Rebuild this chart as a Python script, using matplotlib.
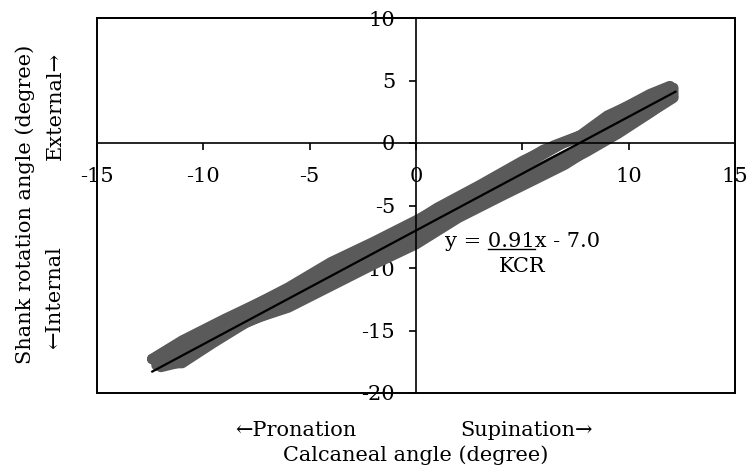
import matplotlib
matplotlib.use("Agg")
import matplotlib.pyplot as plt
from matplotlib.patches import Rectangle
from matplotlib.lines import Line2D
import numpy as np

plt.rcParams["font.family"] = ["DejaVu Serif"]
plt.rcParams["axes.unicode_minus"] = False

# Calcaneal angle (x) vs shank rotation angle (y), three gait trials (up then back)
trial1_x = [-12.3, -11.5, -10, -8, -6, -4, -2, 0, 2, 4, 6, 7.5, 9, 10.5, 11.7, 11.95,
            12.1, 11.5, 10, 8.5, 7, 5.5, 4, 2, 0, -2, -4, -6, -8, -10, -11, -12.0, -12.3]
trial1_y = [-17.19, -16.37, -15.1, -13.33, -11.56, -9.54, -7.92, -6.2, -4.48, -2.56, -0.54, 0.33,
            2.19, 3.36, 4.2, 4.55,
            3.61, 2.97, 1.4, -0.12, -1.73, -3.0, -4.26, -5.98, -8.1, -9.72, -11.44, -13.16,
            -14.28, -16.4, -17.51, -17.92, -17.29]

trial2_x = [-12.2, -11, -9, -7, -5, -3, -1, 1, 3, 5, 7, 9, 10.5, 11.6, 12.1,
            12.1, 11, 9.5, 8, 6, 4, 2, 0, -2, -4, -6, -8, -9.5, -11, -12.2]
trial2_y = [-17.8, -16.81, -14.79, -12.87, -11.15, -9.43, -7.41, -5.69, -4.07, -1.85, 0.07,
            1.49, 3.06, 4.06, 4.41,
            3.71, 2.41, 0.75, -0.72, -2.44, -4.06, -5.78, -7.9, -9.52, -11.24, -12.96,
            -14.38, -15.95, -17.61, -17.6]

trial3_x = [-12.4, -11, -9, -7, -5, -3, -1, 1, 3, 5, 6.5, 8, 9.5, 11, 11.9,
            11.9, 10.5, 9, 7.5, 6, 4.5, 3, 1, -1, -3, -5, -7, -9, -11, -12.4]
trial3_y = [-17.28, -15.81, -14.09, -12.47, -10.85, -8.93, -7.31, -5.19, -3.37, -1.45, -0.19,
            0.78, 2.55, 3.91, 4.53,
            3.63, 2.46, 0.99, -0.58, -1.84, -3.01, -4.57, -6.29, -8.21, -10.13, -12.05,
            -13.57, -15.19, -17.21, -17.28]

# Regression line: y = 0.91x - 7.0
slope = 0.91
intercept = -7.0
fit_x = [-12.4, 12.2]

x_ticks = [-15, -10, -5, 0, 5, 10, 15]
y_ticks = [-20, -15, -10, -5, 0, 5, 10]

fig = plt.figure(figsize=(7.47, 4.70), dpi=100)
ax = fig.add_axes([97 / 747, 77 / 470, 638 / 747, 375 / 470])

band_color = "#5a5a5a"
for tx, ty in [(trial1_x, trial1_y), (trial2_x, trial2_y), (trial3_x, trial3_y)]:
    ax.plot(tx, ty, color=band_color, lw=7.5, solid_capstyle="round",
            solid_joinstyle="round", zorder=2)

fx = np.array(fit_x)
ax.plot(fx, slope * fx + intercept, color="black", lw=1.6, zorder=3)

ax.set_xlim(-15, 15)
ax.set_ylim(-20, 10)
ax.set_xticks(x_ticks)
ax.set_yticks(y_ticks)
ax.set_xticklabels([str(v) for v in x_ticks])
ax.set_yticklabels([str(v) for v in y_ticks])

# axes cross at the origin, plus a full outer frame
ax.spines["left"].set_position(("data", 0))
ax.spines["bottom"].set_position(("data", 0))
for s in ax.spines.values():
    s.set_linewidth(1.2)
    s.set_zorder(4)
ax.add_patch(Rectangle((0, 0), 1, 1, transform=ax.transAxes, fill=False,
                       lw=1.4, ec="black", clip_on=False, zorder=4))

ax.tick_params(axis="x", direction="out", length=5, width=1.2, pad=12, labelsize=15)
ax.tick_params(axis="y", direction="out", length=5, width=1.2, pad=10, labelsize=15)

# equation
eq_text = "y = 0.91x - 7.0"
eq = ax.text(5.0, -7.9, eq_text, ha="center", va="center", fontsize=15, zorder=5)
ax.text(5.0, -9.9, "KCR", ha="center", va="center", fontsize=15, zorder=5)

fig.canvas.draw()
r = fig.canvas.get_renderer()
bb = eq.get_window_extent(r)
tmp = fig.text(0, 0, "y = 0.91", fontsize=15)
w_pre = tmp.get_window_extent(r).width
tmp.set_text("0.91")
w_num = tmp.get_window_extent(r).width
tmp.remove()
u0 = bb.x0 + w_pre - w_num
u1 = bb.x0 + w_pre
uy = bb.y0 + 2
fig.add_artist(Line2D([u0 / 747, u1 / 747], [uy / 470, uy / 470],
                      transform=fig.transFigure, color="black", lw=1.0))

# axis titles
fig.text(416 / 747, 1 - 455 / 470, "Calcaneal angle (degree)", ha="center", va="center", fontsize=15)
fig.text(296 / 747, 1 - 430 / 470, "\u2190Pronation", ha="center", va="center", fontsize=15)
fig.text(527 / 747, 1 - 430 / 470, "Supination\u2192", ha="center", va="center", fontsize=15)
fig.text(25 / 747, 1 - 204 / 470, "Shank rotation angle (degree)", ha="center", va="center",
         rotation=90, fontsize=15)
fig.text(55 / 747, 1 - 106 / 470, "External\u2192", ha="center", va="center",
         rotation=90, fontsize=15)
fig.text(55 / 747, 1 - 298 / 470, "\u2190Internal", ha="center", va="center",
         rotation=90, fontsize=15)

fig.savefig("out.png", dpi=100)
